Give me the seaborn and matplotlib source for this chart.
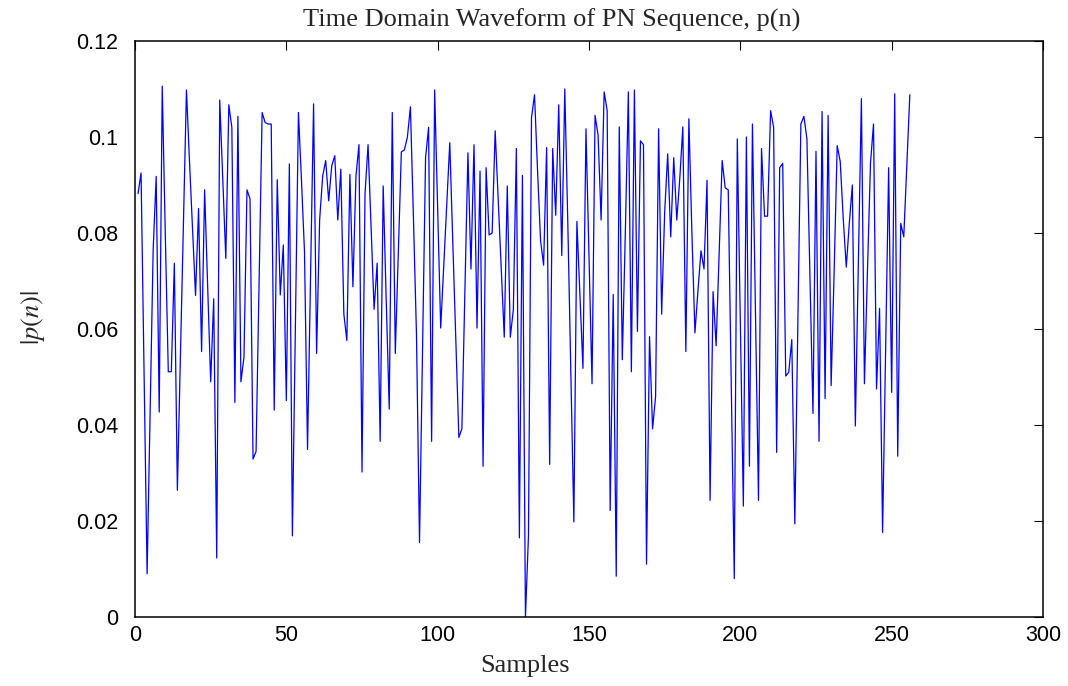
import numpy as np
import pandas as pd
import matplotlib
matplotlib.use("Agg")
import matplotlib.pyplot as plt
import seaborn as sns

# ---- data ----
samples = list(range(1, 257))
amplitude = [
    0.0882, 0.0925, 0.0510, 0.0090, 0.0430, 0.0765, 0.0918, 0.0427, 0.1106, 0.0800,
    0.0511, 0.0511, 0.0737, 0.0264, 0.0540, 0.0820, 0.1098, 0.0950, 0.0812, 0.0670,
    0.0851, 0.0553, 0.0890, 0.0690, 0.0490, 0.0663, 0.0123, 0.1077, 0.0910, 0.0747,
    0.1067, 0.1020, 0.0447, 0.1043, 0.0490, 0.0541, 0.0890, 0.0871, 0.0329, 0.0345,
    0.0700, 0.1051, 0.1030, 0.1027, 0.1027, 0.0431, 0.0911, 0.0671, 0.0775, 0.0451,
    0.0944, 0.0169, 0.0610, 0.1051, 0.0910, 0.0761, 0.0349, 0.0710, 0.1069, 0.0549,
    0.0827, 0.0918, 0.0951, 0.0867, 0.0940, 0.0961, 0.0827, 0.0933, 0.0631, 0.0576,
    0.0922, 0.0688, 0.0918, 0.0984, 0.0302, 0.0882, 0.0984, 0.0810, 0.0641, 0.0737,
    0.0366, 0.0898, 0.0660, 0.0433, 0.1051, 0.0549, 0.0760, 0.0969, 0.0973, 0.1000,
    0.1063, 0.0830, 0.0588, 0.0155, 0.0560, 0.0957, 0.1020, 0.0366, 0.1098, 0.0850,
    0.0602, 0.0730, 0.0860, 0.0988, 0.0780, 0.0580, 0.0374, 0.0392, 0.0680, 0.0967,
    0.0725, 0.0984, 0.0602, 0.0929, 0.0314, 0.0936, 0.0796, 0.0800, 0.1013, 0.0870,
    0.0730, 0.0583, 0.0898, 0.0583, 0.0640, 0.0976, 0.0165, 0.0920, 0.0000, 0.0169,
    0.1040, 0.1088, 0.0930, 0.0784, 0.0733, 0.0978, 0.0318, 0.0976, 0.0837, 0.1067,
    0.0753, 0.1100, 0.0820, 0.0510, 0.0198, 0.0824, 0.0670, 0.0518, 0.1017, 0.0750,
    0.0486, 0.1045, 0.1004, 0.0827, 0.1094, 0.1055, 0.0222, 0.0672, 0.0085, 0.1021,
    0.0536, 0.0800, 0.1094, 0.0511, 0.1098, 0.0595, 0.0992, 0.0984, 0.0110, 0.0584,
    0.0392, 0.0459, 0.1017, 0.0631, 0.0843, 0.0965, 0.0792, 0.0957, 0.0827, 0.0914,
    0.1021, 0.0553, 0.1038, 0.0800, 0.0592, 0.0680, 0.0763, 0.0725, 0.0910, 0.0243,
    0.0678, 0.0565, 0.0760, 0.0951, 0.0894, 0.0890, 0.0480, 0.0080, 0.0996, 0.0610,
    0.0231, 0.1000, 0.0314, 0.1027, 0.0630, 0.0243, 0.0976, 0.0835, 0.0835, 0.1055,
    0.1020, 0.0343, 0.0936, 0.0945, 0.0502, 0.0510, 0.0578, 0.0194, 0.0610, 0.1027,
    0.1043, 0.0996, 0.0710, 0.0424, 0.0970, 0.0366, 0.1053, 0.0455, 0.1045, 0.0482,
    0.0720, 0.0982, 0.0949, 0.0830, 0.0729, 0.0820, 0.0900, 0.0398, 0.0740, 0.1080,
    0.0486, 0.0720, 0.0945, 0.1027, 0.0475, 0.0643, 0.0176, 0.0560, 0.0936, 0.0468,
    0.1090, 0.0335, 0.0820, 0.0792, 0.0940, 0.1088,
]
x_ticks = [0, 50, 100, 150, 200, 250, 300]
x_tick_labels = ["0", "50", "100", "150", "200", "250", "300"]
y_ticks = [0, 0.02, 0.04, 0.06, 0.08, 0.10, 0.12]
y_tick_labels = ["0", "0.02", "0.04", "0.06", "0.08", "0.1", "0.12"]
title = "Time Domain Waveform of PN Sequence, p(n)"
x_label = "Samples"
y_label = r"$|p(n)|$"

df = pd.DataFrame({"n": samples, "p": amplitude})

sns.set_style("white")
plt.rcParams["font.family"] = ["Liberation Sans", "DejaVu Sans"]
plt.rcParams["mathtext.fontset"] = "stix"

W, H = 1068, 686
fig = plt.figure(figsize=(W / 100, H / 100), dpi=100)
ax = fig.add_axes([135 / W, 1 - 617 / H, (1043 - 135) / W, (617 - 41) / H])

sns.lineplot(data=df, x="n", y="p", ax=ax, color="#0000ff", linewidth=0.9)

ax.set_xlim(0, 300)
ax.set_ylim(0, 0.12)
ax.set_xticks(x_ticks)
ax.set_xticklabels(x_tick_labels)
ax.set_yticks(y_ticks)
ax.set_yticklabels(y_tick_labels)

for s in ax.spines.values():
    s.set_visible(True)
    s.set_color("black")
    s.set_linewidth(1.1)

ax.tick_params(axis="both", which="major", direction="in", length=6.5, width=0.8,
               top=True, right=True, labelsize=15.5, colors="black")
ax.tick_params(axis="x", pad=5.5)
ax.tick_params(axis="y", pad=12)
ax.set_xlabel("")
ax.set_ylabel("")
ax.grid(False)

serif = ["Liberation Serif", "DejaVu Serif"]
fig.text(551.5 / W, 1 - 27 / H, title, fontsize=19, family=serif,
         ha="center", va="baseline")
fig.text(525 / W, 1 - 672 / H, x_label, fontsize=19, family=serif,
         ha="center", va="baseline")
fig.text(33 / W, 1 - 318 / H, y_label, fontsize=19, rotation=90,
         ha="center", va="center")

fig.savefig("out.png", dpi=100, facecolor="white")
